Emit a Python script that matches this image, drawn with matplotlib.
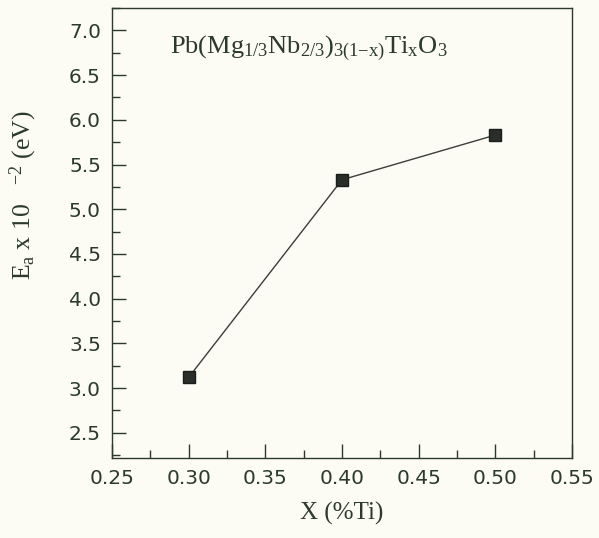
import matplotlib
matplotlib.use("Agg")
import matplotlib.pyplot as plt
from matplotlib.ticker import MultipleLocator

x_ti = [0.30, 0.40, 0.50]
ea = [3.12, 5.33, 5.83]
xticks = [0.25, 0.30, 0.35, 0.40, 0.45, 0.50, 0.55]
yticks = [2.5, 3.0, 3.5, 4.0, 4.5, 5.0, 5.5, 6.0, 6.5, 7.0]

plt.rcParams['mathtext.fontset'] = 'custom'
plt.rcParams['mathtext.rm'] = 'Liberation Serif'
plt.rcParams['mathtext.it'] = 'Liberation Serif:italic'

ink = '#2b3a2c'
bg = '#fcfbf4'
fig = plt.figure(figsize=(5.99, 5.38), dpi=100, facecolor=bg)
ax = fig.add_axes([0.187, 0.149, 0.768, 0.836], facecolor=bg)

ax.plot(x_ti, ea, color='#3a3f3a', lw=1.0, marker='s', ms=8,
        markerfacecolor='#2a2e2a', markeredgecolor='#1a1d1a')

ax.set_xlim(0.25, 0.55)
ax.set_ylim(2.22, 7.25)
ax.set_xticks(xticks)
ax.set_yticks(yticks)
ax.set_xticklabels([f"{v:.2f}" for v in xticks])
ax.set_yticklabels([f"{v:.1f}" for v in yticks])
ax.xaxis.set_minor_locator(MultipleLocator(0.025))
ax.yaxis.set_minor_locator(MultipleLocator(0.25))
ax.tick_params(which='major', direction='in', length=10, width=1.0, color=ink,
               labelsize=14.5, labelcolor=ink, pad=8)
ax.tick_params(which='minor', direction='in', length=6, width=1.0, color=ink)
for lab in ax.get_xticklabels() + ax.get_yticklabels():
    lab.set_family('DejaVu Sans')
for s in ax.spines.values():
    s.set_color(ink)
    s.set_linewidth(1.0)

ax.set_xlabel('X (%Ti)', family='Liberation Serif', fontsize=18, color=ink, labelpad=10)
ax.set_ylabel(r'E$_\mathrm{a}$ x 10   $^{-2}$ (eV)', family='Liberation Serif',
              fontsize=18.5, color=ink)
ax.yaxis.set_label_coords(-0.158, 0.584)

ax.text(0.125, 0.91,
        r'Pb(Mg$_{1/3}$Nb$_{2/3}$)$_{3(1\mathrm{-x})}$Ti$_\mathrm{x}$O$_3$',
        transform=ax.transAxes, family='Liberation Serif', fontsize=19, color=ink,
        ha='left', va='center')

fig.savefig('out.png', dpi=100, facecolor=bg)
